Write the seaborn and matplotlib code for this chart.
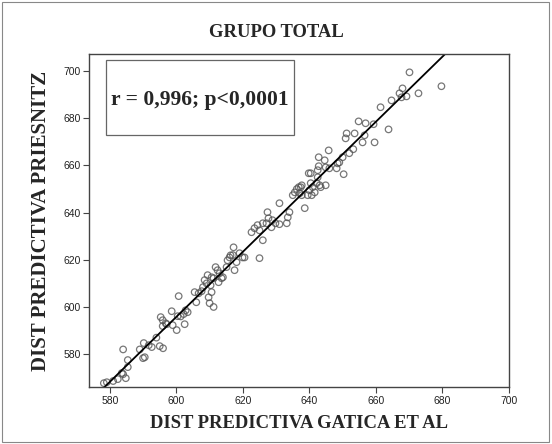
import matplotlib
matplotlib.use("Agg")
import matplotlib.pyplot as plt
import seaborn as sns
import pandas as pd
from matplotlib.patches import Rectangle

# puntos (Gatica et al vs Priesnitz)
gatica = [578.2, 579.1, 581.0, 582.4, 584.0, 584.0, 584.8, 585.4, 585.4, 583.6,
          589.0, 590.2, 590.0, 590.5, 591.7, 592.6, 594.0, 595.0, 596.0, 595.3,
          595.9, 596.8, 595.9, 597.1, 598.6, 598.9, 600.1, 600.4, 600.7, 601.3,
          602.2, 602.5, 602.8, 603.4, 605.5, 606.0, 606.7, 607.6, 608.0, 608.5,
          609.1, 609.4, 609.7, 610.6, 610.3, 610.0, 611.2, 610.6, 611.2, 611.8,
          612.4, 613.0, 612.7, 613.6, 614.0, 615.1, 615.4, 616.0, 616.3, 617.0,
          617.2, 617.5, 618.1, 619.0, 619.9, 620.5, 625.0, 626.0, 622.6, 623.5,
          624.4, 625.0, 626.0, 627.1, 627.7, 627.4, 628.6, 628.9, 629.8, 631.0,
          631.0, 633.2, 633.5, 634.0, 635.0, 635.6, 636.2, 636.8, 637.4, 637.7,
          638.6, 639.5, 640.0, 639.8, 637.7, 637.1, 640.7, 641.0, 640.4, 641.6,
          640.4, 642.2, 642.5, 642.8, 643.1, 643.4, 642.5, 642.8, 644.6, 644.9,
          644.9, 645.8, 646.0, 648.2, 648.5, 649.0, 650.0, 650.3, 652.0, 653.2,
          650.9, 651.2, 653.6, 654.8, 656.9, 659.3, 656.0, 656.6, 659.6, 663.8,
          661.4, 664.7, 667.1, 668.0, 667.7, 669.2, 670.1, 672.8, 679.7]
priesnitz = [567.7, 568.1, 568.6, 569.4, 582.0, 571.5, 569.8, 574.5, 577.5, 572.0,
             582.0, 584.7, 578.3, 578.7, 583.8, 583.0, 587.0, 583.4, 582.5, 595.7,
             594.4, 593.1, 591.9, 592.7, 598.2, 592.3, 590.2, 596.1, 604.6, 596.0,
             597.0, 592.7, 598.6, 597.8, 606.3, 602.0, 605.8, 606.7, 608.4, 611.4,
             610.0, 613.5, 604.1, 606.3, 609.2, 601.6, 600.0, 612.6, 612.2, 616.9,
             615.6, 614.3, 610.5, 612.2, 612.6, 616.9, 619.8, 621.0, 621.9, 622.0,
             625.3, 615.6, 619.0, 622.8, 621.0, 621.0, 620.7, 628.3, 631.7, 633.4,
             634.7, 632.5, 635.5, 635.5, 637.6, 640.2, 633.8, 636.8, 635.5, 635.1,
             644.0, 635.5, 638.0, 640.2, 647.4, 648.6, 650.0, 650.8, 650.8, 647.4,
             641.9, 647.4, 649.5, 656.7, 651.6, 648.2, 647.4, 650.8, 652.5, 648.6,
             656.7, 652.5, 655.0, 659.7, 651.6, 650.8, 658.0, 663.5, 662.2, 659.2,
             651.6, 666.4, 658.8, 658.8, 660.9, 661.3, 663.5, 656.3, 665.2, 666.9,
             671.5, 673.6, 673.6, 678.7, 677.9, 677.5, 669.8, 672.8, 669.8, 675.3,
             684.7, 687.6, 690.6, 692.7, 688.9, 689.3, 699.5, 690.6, 693.6]
ticks = [580, 600, 620, 640, 660, 680, 700]

df = pd.DataFrame({"gatica": gatica, "priesnitz": priesnitz})

sns.set_style("ticks")
plt.rcParams["font.family"] = ["Liberation Sans", "DejaVu Sans"]

fig = plt.figure(figsize=(5.52, 4.44), dpi=100)
ax = fig.add_axes([0.161, 0.128, 0.761, 0.750])
ax.set_xlim(573.7, 700)
ax.set_ylim(566, 707.2)

sns.regplot(data=df, x="gatica", y="priesnitz", ax=ax, ci=None, truncate=False,
            scatter_kws=dict(s=22, facecolors="none", edgecolors="#555555", linewidths=0.9),
            line_kws=dict(color="black", lw=1.3))

ax.set_xlim(573.7, 700)
ax.set_ylim(566, 707.2)
ax.set_xticks(ticks)
ax.set_yticks(ticks)
ax.tick_params(labelsize=7.5, length=4, width=0.8, color="#444444", labelcolor="#222222", pad=2)
for sp in ax.spines.values():
    sp.set_color("#444444")
    sp.set_linewidth(1.0)

serif = ["Liberation Serif", "DejaVu Serif"]
ax.set_xlabel("DIST PREDICTIVA GATICA ET AL", family=serif, fontsize=13.4, fontweight="bold", labelpad=7)
ax.set_ylabel("DIST PREDICTIVA PRIESNITZ", family=serif, fontsize=15, fontweight="bold", labelpad=9)
fig.text(0.5, 0.926, "GRUPO TOTAL", family=serif, fontsize=13.4, fontweight="bold", ha="center", va="center")

# recuadro con el coeficiente
ax.add_patch(Rectangle((0.040, 0.757), 0.448, 0.225, transform=ax.transAxes,
                       facecolor="white", edgecolor="#666666", lw=0.9, zorder=3))
ax.text(0.264, 0.862, "r = 0,996; p<0,0001", transform=ax.transAxes, family=serif, fontsize=15.5,
        fontweight="bold", ha="center", va="center", zorder=4)

fig.patches.append(Rectangle((0.004, 0.005), 0.99, 0.99, transform=fig.transFigure,
                             fill=False, edgecolor="#888888", lw=0.8))

fig.savefig("out.png", dpi=100)
